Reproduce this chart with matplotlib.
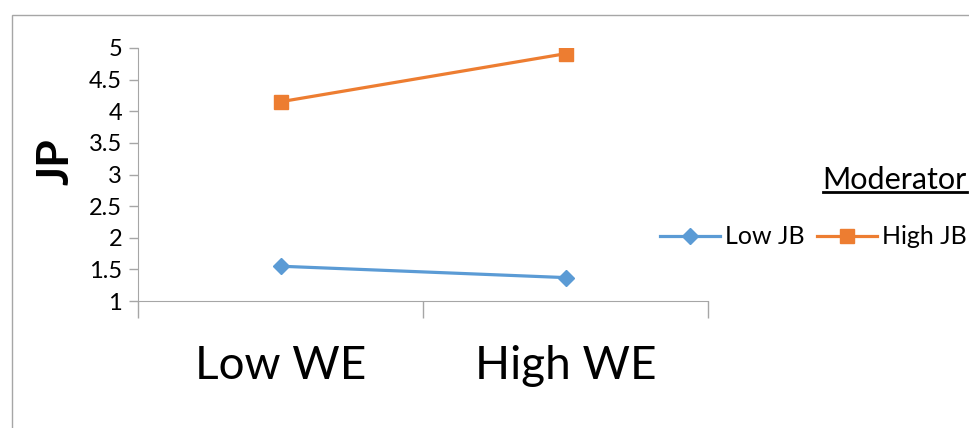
import matplotlib

matplotlib.use("Agg")
import matplotlib.pyplot as plt  # noqa: E402
from matplotlib.lines import Line2D  # noqa: E402
from matplotlib.patches import Rectangle  # noqa: E402

plt.rcParams["font.family"] = ["Lato", "DejaVu Sans"]

categories = ["Low WE", "High WE"]
low_jb = [1.55, 1.37]
high_jb = [4.15, 4.91]
series_names = ["Low JB", "High JB"]
yticks = [1, 1.5, 2, 2.5, 3, 3.5, 4, 4.5, 5]

BLUE = "#5B9BD5"
ORANGE = "#ED7D31"
GRID = "#a6a6a6"

fig = plt.figure(figsize=(9.7, 4.28), dpi=100)
# outer chart border (runs off the right and bottom edges like the source)
fig.add_artist(Rectangle((12 / 970, -0.2), 1.2, 0.2 + (428 - 15) / 428,
                         transform=fig.transFigure, fill=False,
                         edgecolor=GRID, linewidth=1.0))

ax = fig.add_axes([138 / 970, (428 - 301) / 428, 570 / 970, 253 / 428])
x = list(range(len(categories)))
ax.plot(x, low_jb, color=BLUE, lw=2.3, marker="D", ms=8, label=series_names[0])
ax.plot(x, high_jb, color=ORANGE, lw=2.3, marker="s", ms=10, label=series_names[1])

ax.set_xlim(-0.5, len(categories) - 0.5)
ax.set_ylim(1, 5)
ax.set_yticks(yticks)
ax.set_yticklabels([f"{t:g}" for t in yticks], fontsize=17)
ax.set_xticks(x)
ax.set_xticklabels(categories, fontsize=33)
ax.set_xticks([-0.5, 0.5, 1.5], minor=True)
ax.tick_params(axis="x", which="major", length=0, pad=32)
ax.tick_params(axis="x", which="minor", length=12, color=GRID, width=1)
ax.tick_params(axis="y", length=6.5, color=GRID, width=1, pad=5)
ax.spines[["top", "right"]].set_visible(False)
ax.spines[["left", "bottom"]].set_color(GRID)
ax.set_ylabel("JP", fontsize=32, fontweight="bold")
ax.yaxis.set_label_coords(-0.11, 0.55)

handles = [Line2D([], [], color=BLUE, lw=2.3, marker="D", ms=8),
           Line2D([], [], color=ORANGE, lw=2.3, marker="s", ms=10)]
fig.legend(handles, series_names, ncol=2, frameon=False, fontsize=18,
           loc="center right", bbox_to_anchor=(967 / 970, (428 - 237) / 428),
           handlelength=2.4, handletextpad=0.2, columnspacing=0.5,
           borderaxespad=0, borderpad=0)

title = fig.text(967 / 970, (428 - 180) / 428, "Moderator", fontsize=22,
                 ha="right", va="center")
fig.canvas.draw()
bb = title.get_window_extent().transformed(fig.transFigure.inverted())
fig.add_artist(Line2D([bb.x0, bb.x1], [bb.y0 + 0.004, bb.y0 + 0.004],
                      transform=fig.transFigure, color="black", lw=2))

fig.savefig("out.png", dpi=100)
